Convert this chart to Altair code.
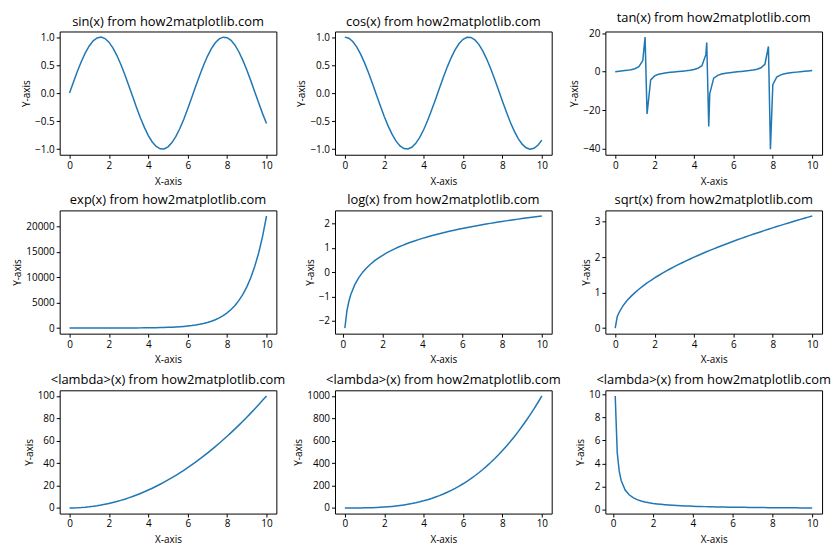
import altair as alt
import pandas as pd

FONT = "Open Sans"
BLUE = "#1f77b4"

x_std = [0, 0.2, 0.4, 0.6, 0.8, 1.0, 1.2, 1.4, 1.6, 1.8, 2.0, 2.2, 2.4, 2.6, 2.8, 3.0, 3.2, 3.4, 3.6, 3.8,
         4.0, 4.2, 4.4, 4.6, 4.8, 5.0, 5.2, 5.4, 5.6, 5.8, 6.0, 6.2, 6.4, 6.6, 6.8, 7.0, 7.2, 7.4, 7.6, 7.8,
         8.0, 8.2, 8.4, 8.6, 8.8, 9.0, 9.2, 9.4, 9.6, 9.8, 10.0]

sin_y = [0, 0.199, 0.389, 0.565, 0.717, 0.841, 0.932, 0.985, 1.000, 0.974, 0.909, 0.808, 0.675, 0.516, 0.335,
         0.141, -0.058, -0.256, -0.443, -0.612, -0.757, -0.872, -0.952, -0.994, -0.996, -0.959, -0.883, -0.773,
         -0.631, -0.465, -0.279, -0.083, 0.117, 0.312, 0.494, 0.657, 0.794, 0.899, 0.968, 0.999, 0.989, 0.941,
         0.855, 0.734, 0.585, 0.412, 0.223, 0.025, -0.174, -0.366, -0.544]

cos_y = [1, 0.980, 0.921, 0.825, 0.697, 0.540, 0.362, 0.170, -0.029, -0.227, -0.416, -0.589, -0.737, -0.857,
         -0.942, -0.990, -0.998, -0.967, -0.897, -0.791, -0.654, -0.490, -0.307, -0.112, 0.087, 0.284, 0.469,
         0.635, 0.776, 0.886, 0.960, 0.997, 0.993, 0.950, 0.870, 0.754, 0.608, 0.439, 0.251, 0.054, -0.146,
         -0.339, -0.520, -0.679, -0.811, -0.911, -0.975, -1.000, -0.985, -0.930, -0.839]

tan_x = [0, 0.2, 0.4, 0.6, 0.8, 1.0, 1.2, 1.4, 1.515, 1.616, 1.8, 2.0, 2.2, 2.4, 2.6, 2.8, 3.0, 3.2, 3.4, 3.6,
         3.8, 4.0, 4.2, 4.4, 4.6, 4.646, 4.747, 4.8, 5.0, 5.2, 5.4, 5.6, 5.8, 6.0, 6.2, 6.4, 6.6, 6.8, 7.0, 7.2,
         7.4, 7.6, 7.778, 7.879, 8.0, 8.2, 8.4, 8.6, 8.8, 9.0, 9.2, 9.4, 9.6, 9.8, 10.0]
tan_y = [0, 0.203, 0.423, 0.684, 1.030, 1.557, 2.572, 5.798, 17.98, -22.0, -4.286, -2.185, -1.374, -0.916,
         -0.602, -0.356, -0.143, 0.058, 0.264, 0.493, 0.774, 1.158, 1.778, 3.096, 8.860, 15.2, -28.5, -11.38,
         -3.381, -1.886, -1.218, -0.814, -0.525, -0.291, -0.083, 0.118, 0.329, 0.568, 0.871, 1.306, 2.050,
         3.858, 13.1, -40.3, -6.800, -2.776, -1.644, -1.081, -0.722, -0.452, -0.229, -0.025, 0.177, 0.394, 0.648]

exp_y = [1, 1.22, 1.49, 1.82, 2.23, 2.72, 3.32, 4.06, 4.95, 6.05, 7.39, 9.03, 11.0, 13.5, 16.4, 20.1, 24.5,
         30.0, 36.6, 44.7, 54.6, 66.7, 81.5, 99.5, 121.5, 148.4, 181.3, 221.4, 270.4, 330.3, 403.4, 492.7, 601.8,
         735.1, 897.8, 1096.6, 1339.4, 1636.0, 1998.2, 2440.6, 2981.0, 3641.0, 4447.1, 5431.7, 6634.2, 8103.1,
         9897.1, 12088.4, 14764.8, 18033.7, 22026.5]

pos_x = [0.101, 0.202, 0.303, 0.4, 0.6, 0.8, 1.0, 1.2, 1.4, 1.6, 1.8, 2.0, 2.2, 2.4, 2.6, 2.8, 3.0, 3.2, 3.4,
         3.6, 3.8, 4.0, 4.2, 4.4, 4.6, 4.8, 5.0, 5.2, 5.4, 5.6, 5.8, 6.0, 6.2, 6.4, 6.6, 6.8, 7.0, 7.2, 7.4, 7.6,
         7.8, 8.0, 8.2, 8.4, 8.6, 8.8, 9.0, 9.2, 9.4, 9.6, 9.8, 10.0]
log_y = [-2.293, -1.599, -1.194, -0.916, -0.511, -0.223, 0, 0.182, 0.336, 0.470, 0.588, 0.693, 0.788, 0.875,
         0.956, 1.030, 1.099, 1.163, 1.224, 1.281, 1.335, 1.386, 1.435, 1.482, 1.526, 1.569, 1.609, 1.649, 1.686,
         1.723, 1.758, 1.792, 1.825, 1.856, 1.887, 1.917, 1.946, 1.974, 2.001, 2.028, 2.054, 2.079, 2.104, 2.128,
         2.152, 2.175, 2.197, 2.219, 2.241, 2.262, 2.282, 2.303]
inv_y = [9.9, 4.95, 3.30, 2.5, 1.667, 1.25, 1.0, 0.833, 0.714, 0.625, 0.556, 0.5, 0.455, 0.417, 0.385, 0.357,
         0.333, 0.3125, 0.294, 0.278, 0.263, 0.25, 0.238, 0.227, 0.217, 0.208, 0.2, 0.192, 0.185, 0.179, 0.172,
         0.167, 0.161, 0.156, 0.152, 0.147, 0.143, 0.139, 0.135, 0.132, 0.128, 0.125, 0.122, 0.119, 0.116, 0.114,
         0.111, 0.109, 0.106, 0.104, 0.102, 0.1]

sqrt_x = [0, 0.101, 0.2, 0.4, 0.6, 0.8, 1.0, 1.2, 1.4, 1.6, 1.8, 2.0, 2.2, 2.4, 2.6, 2.8, 3.0, 3.2, 3.4, 3.6,
          3.8, 4.0, 4.2, 4.4, 4.6, 4.8, 5.0, 5.2, 5.4, 5.6, 5.8, 6.0, 6.2, 6.4, 6.6, 6.8, 7.0, 7.2, 7.4, 7.6,
          7.8, 8.0, 8.2, 8.4, 8.6, 8.8, 9.0, 9.2, 9.4, 9.6, 9.8, 10.0]
sqrt_y = [0, 0.318, 0.447, 0.632, 0.775, 0.894, 1, 1.095, 1.183, 1.265, 1.342, 1.414, 1.483, 1.549, 1.612,
          1.673, 1.732, 1.789, 1.844, 1.897, 1.949, 2, 2.049, 2.098, 2.145, 2.191, 2.236, 2.280, 2.324, 2.366,
          2.408, 2.449, 2.490, 2.530, 2.569, 2.608, 2.646, 2.683, 2.720, 2.757, 2.793, 2.828, 2.864, 2.898, 2.933,
          2.966, 3, 3.033, 3.066, 3.098, 3.130, 3.162]

sq_y = [0, 0.04, 0.16, 0.36, 0.64, 1, 1.44, 1.96, 2.56, 3.24, 4, 4.84, 5.76, 6.76, 7.84, 9, 10.24, 11.56, 12.96,
        14.44, 16, 17.64, 19.36, 21.16, 23.04, 25, 27.04, 29.16, 31.36, 33.64, 36, 38.44, 40.96, 43.56, 46.24,
        49, 51.84, 54.76, 57.76, 60.84, 64, 67.24, 70.56, 73.96, 77.44, 81, 84.64, 88.36, 92.16, 96.04, 100]

cube_y = [0, 0.008, 0.064, 0.216, 0.512, 1, 1.728, 2.744, 4.096, 5.832, 8, 10.648, 13.824, 17.576, 21.952, 27,
          32.768, 39.304, 46.656, 54.872, 64, 74.088, 85.184, 97.336, 110.592, 125, 140.608, 157.464, 175.616,
          195.112, 216, 238.328, 262.144, 287.496, 314.432, 343, 373.248, 405.224, 438.976, 474.552, 512,
          551.368, 592.704, 636.056, 681.472, 729, 778.688, 830.584, 884.736, 941.192, 1000]

x_ticks = [0, 2, 4, 6, 8, 10]

panels = [
    ("sin(x) from how2matplotlib.com", x_std, sin_y, (-0.5, 10.5), (-1.1, 1.1), [-1, -0.5, 0, 0.5, 1], ".1f"),
    ("cos(x) from how2matplotlib.com", x_std, cos_y, (-0.5, 10.5), (-1.1, 1.1), [-1, -0.5, 0, 0.5, 1], ".1f"),
    ("tan(x) from how2matplotlib.com", tan_x, tan_y, (-0.5, 10.5), (-43.2, 20.9), [-40, -20, 0, 20], "d"),
    ("exp(x) from how2matplotlib.com", x_std, exp_y, (-0.5, 10.5), (-1100, 23128), [0, 5000, 10000, 15000, 20000], "d"),
    ("log(x) from how2matplotlib.com", pos_x, log_y, (-0.394, 10.495), (-2.523, 2.533), [-2, -1, 0, 1, 2], "d"),
    ("sqrt(x) from how2matplotlib.com", sqrt_x, sqrt_y, (-0.5, 10.5), (-0.158, 3.32), [0, 1, 2, 3], "d"),
    ("<lambda>(x) from how2matplotlib.com", x_std, sq_y, (-0.5, 10.5), (-5, 105), [0, 20, 40, 60, 80, 100], "d"),
    ("<lambda>(x) from how2matplotlib.com", x_std, cube_y, (-0.5, 10.5), (-50, 1050), [0, 200, 400, 600, 800, 1000], "d"),
    ("<lambda>(x) from how2matplotlib.com", pos_x, inv_y, (-0.394, 10.495), (-0.39, 10.39), [0, 2, 4, 6, 8, 10], "d"),
]

W, H = 218, 124


def panel(title, xs, ys, xd, yd, yt, fmt):
    df = pd.DataFrame({"x": xs, "y": ys})
    return (
        alt.Chart(df)
        .mark_line(color=BLUE, strokeWidth=1.5, clip=True)
        .encode(
            x=alt.X("x:Q", scale=alt.Scale(domain=list(xd), nice=False, zero=False),
                    axis=alt.Axis(values=x_ticks, format="d", title="X-axis")),
            y=alt.Y("y:Q", scale=alt.Scale(domain=list(yd), nice=False, zero=False),
                    axis=alt.Axis(values=yt, format=fmt, title="Y-axis")),
        )
        .properties(width=W, height=H, title=alt.TitleParams(title, fontSize=13, fontWeight="normal",
                                                             font=FONT, color="black", offset=3,
                                                             frame="group", anchor="middle"))
    )


charts = [panel(*p) for p in panels]
chart = (
    alt.concat(*charts, columns=3, spacing={"row": 7, "column": 7})
    .configure(font=FONT, padding={"left": 4, "top": 2, "right": 0, "bottom": 0})
    .configure_view(stroke="black", strokeWidth=1)
    .configure_axis(grid=False, domain=False, tickColor="black", tickSize=3.5, labelColor="black",
                    labelFont=FONT, labelFontSize=10, titleFont=FONT, titleFontSize=10,
                    titleFontWeight="normal", titleColor="black", labelPadding=2, titlePadding=3)
    .configure_axisX(titlePadding=6)
)

chart.save("out.html", embed_options={"renderer": "svg", "actions": False})
